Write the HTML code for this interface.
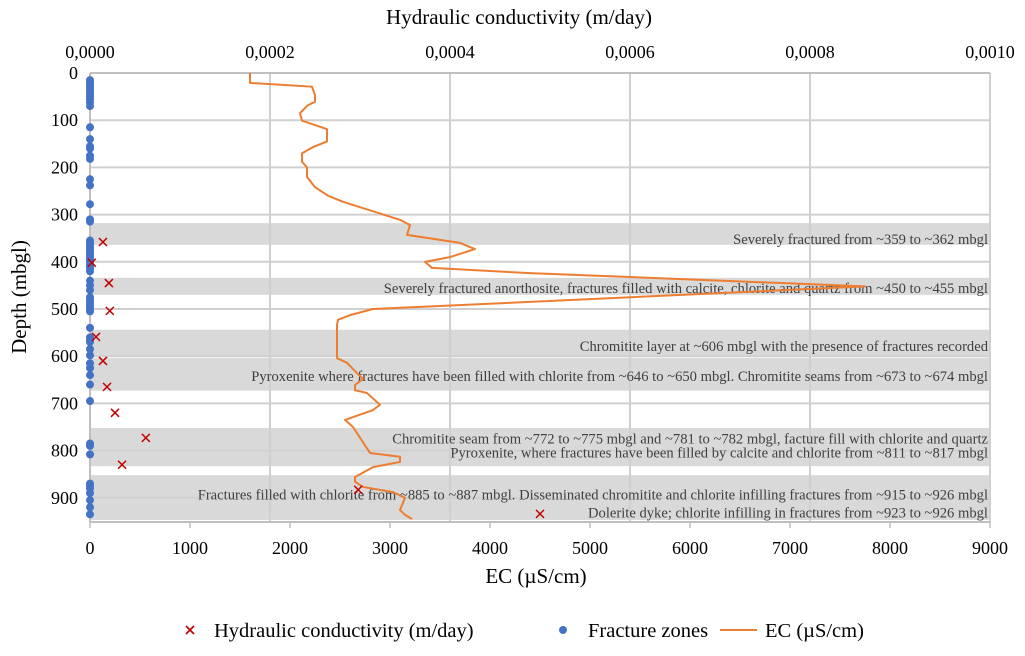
<!DOCTYPE html>
<html><head><meta charset="utf-8"><style>
body{margin:0;background:#fff;width:1025px;height:651px;overflow:hidden;font-family:"Liberation Serif",serif}
svg text{font-family:"Liberation Serif",serif;fill:#333}
</style></head><body>
<svg id="chart" width="1025" height="651">
<g id="bands"></g><g id="grid"></g><g id="axes"></g><g id="labels"></g><g id="series"></g>
<text x="519" y="24" text-anchor="middle" font-size="21" style="fill:#000">Hydraulic conductivity (m/day)</text>
<text x="536" y="583" text-anchor="middle" font-size="21" style="fill:#000">EC (µS/cm)</text>
<text transform="translate(26,297) rotate(-90)" text-anchor="middle" font-size="21" style="fill:#000">Depth (mbgl)</text>
<g>
<g><path d="M186,626L194,634M186,634L194,626" stroke="#c00000" stroke-width="1.6"/><text x="214" y="637" font-size="20.5" style="fill:#000">Hydraulic conductivity (m/day)</text></g>
<g><circle cx="563" cy="630" r="4" fill="#4472c4"/><text x="588" y="637" font-size="20.5" style="fill:#000">Fracture zones</text></g>
<g><line x1="720" y1="630" x2="757" y2="630" stroke="#ed7d31" stroke-width="2"/><text x="765" y="637" font-size="20.5" style="fill:#000">EC (µS/cm)</text></g>
</g>
</svg>
<script>
const ecValues=[1600,1600,2220,2250,2250,2180,2100,2120,2370,2370,2230,2120,2120,2170,2170,2250,2380,2530,3100,3200,3170,3700,3850,3600,3350,3420,4400,7750,4400,2830,2600,2480,2470,2470,2570,2670,2730,2650,2650,2770,2900,2830,2550,2630,2800,3100,3100,2830,2650,2650,2730,3030,3150,3100,3150,3220];
const ecDepths=[0,21,29,47,61,68,85,101,119,145,157,170,188,200,220,242,260,273,311,322,343,360,373,390,400,413,424,452,485,500,513,523,534,604,614,636,648,661,672,678,703,714,735,750,805,813,824,835,856,866,877,888,900,926,936,945];
const hcValues=[0.0000144,0.000002,0.000021,0.000022,0.0000067,0.0000144,0.0000189,0.0000278,0.000062,0.0000356,0.000298,0.0005];
const hcDepths=[358,402,445,504,559,610,665,720,773,830,883,934];
const fractureDepths=[15,20,25,30,35,40,45,50,55,62,70,115,140,155,160,175,182,225,238,278,310,315,355,360,365,370,375,380,385,390,395,400,405,410,415,420,440,450,460,475,480,485,490,495,500,505,540,560,565,570,585,598,615,625,640,660,695,785,790,808,870,875,880,890,905,920,935];
const bandRanges=[[318,364],[434,470],[544,602],[604,673],[752,805],[805,833],[852,902],[902,947]];
const annotTexts=["Severely fractured from ~359 to ~362 mbgl","Severely fractured anorthosite, fractures filled with calcite, chlorite and quartz from ~450 to ~455 mbgl","Chromitite layer at ~606 mbgl with the presence of fractures recorded","Pyroxenite where fractures have been filled with chlorite from ~646 to ~650 mbgl. Chromitite seams from ~673 to ~674 mbgl","Chromitite seam from ~772 to ~775 mbgl and ~781 to ~782 mbgl, facture fill with chlorite and quartz","Pyroxenite, where fractures have been filled by calcite and chlorite from ~811 to ~817 mbgl","Fractures filled with chlorite from ~885 to ~887 mbgl. Disseminated chromitite and chlorite infilling fractures from ~915 to ~926 mbgl","Dolerite dyke; chlorite infilling in fractures from ~923 to ~926 mbgl"];
const annotDepths=[352,455,578,642,774,804,893,931];
const ecTicks=[0,1000,2000,3000,4000,5000,6000,7000,8000,9000];
const hcTicks=["0,0000","0,0002","0,0004","0,0006","0,0008","0,0010"];
const depthTicks=[0,100,200,300,400,500,600,700,800,900];

const NS="http://www.w3.org/2000/svg";
const L=90,R=990,T=73,B=522;
const xEC=v=>L+(v/9000)*(R-L);
const xHC=v=>L+(v/0.001)*(R-L);
const yD=d=>T+d*0.472;
function mk(tag,attrs,parent){const e=document.createElementNS(NS,tag);for(const k in attrs)e.setAttribute(k,attrs[k]);document.getElementById(parent).appendChild(e);return e;}

bandRanges.forEach(r=>{
 const e=mk('rect',{x:L,y:yD(r[0]),width:R-L,height:yD(r[1])-yD(r[0]),fill:'#d9d9d9'},'bands');
 
 
});
depthTicks.forEach(d=>{
 const g=mk('line',{x1:L,x2:R,y1:yD(d),y2:yD(d),stroke:'#d0d0d0','stroke-width':2},'grid');
 
 
 const t=mk('text',{x:78,y:yD(d)+6,'text-anchor':'end','font-size':18,style:'fill:#000'},'axes');
 t.textContent=d;
 
 
});
hcTicks.forEach((s,i)=>{
 const v=i*0.0002,x=xHC(v);
 if(i>0){const g=mk('line',{x1:x,x2:x,y1:T,y2:B,stroke:'#d0d0d0','stroke-width':2},'grid');
 
 }
 const t=mk('text',{x:x,y:58,'text-anchor':'middle','font-size':18,style:'fill:#000'},'axes');
 t.textContent=s;
 
 
});
ecTicks.forEach(v=>{
 const x=xEC(v);
 mk('line',{x1:x,x2:x,y1:B,y2:B+6,stroke:'#bfbfbf','stroke-width':1.5},'axes');
 const t=mk('text',{x:x,y:554,'text-anchor':'middle','font-size':18,style:'fill:#000'},'axes');
 t.textContent=v;
 
 
});
mk('line',{x1:L,x2:R,y1:T,y2:T,stroke:'#bfbfbf','stroke-width':2},'axes');
mk('line',{x1:L,x2:R,y1:B,y2:B,stroke:'#bfbfbf','stroke-width':2},'axes');
mk('line',{x1:L,x2:L,y1:T,y2:B,stroke:'#bfbfbf','stroke-width':2},'axes');

annotTexts.forEach((s,i)=>{
 const t=mk('text',{x:988,y:yD(annotDepths[i])+5,'text-anchor':'end','font-size':14.6,style:'fill:#404040'},'labels');
 t.textContent=s;
 
 
});
fractureDepths.forEach(d=>{
 const c=mk('circle',{cx:L,cy:yD(d),r:4,fill:'#4472c4'},'series');
 
 
});
const pts=ecValues.map((v,i)=>xEC(v)+','+yD(ecDepths[i])).join(' ');
const pl=mk('polyline',{points:pts,fill:'none',stroke:'#ed7d31','stroke-width':2,'stroke-linejoin':'round'},'series');


hcValues.forEach((v,i)=>{
 const x=xHC(v),y=yD(hcDepths[i]);
 const p=mk('path',{d:`M${x-4},${y-4}L${x+4},${y+4}M${x-4},${y+4}L${x+4},${y-4}`,stroke:'#c00000','stroke-width':1.5},'series');
 
 
});
</script>
</body></html>
